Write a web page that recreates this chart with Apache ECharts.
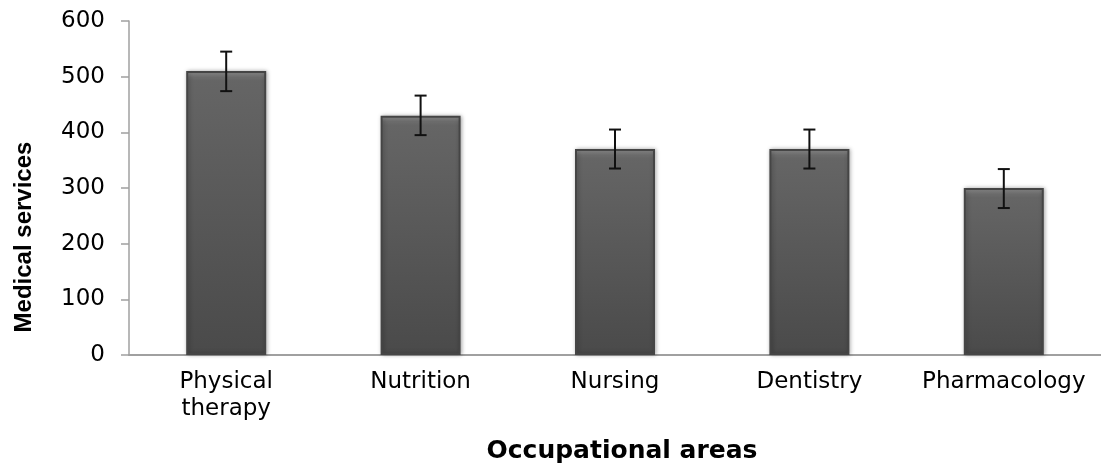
<!DOCTYPE html>
<html>
<head>
<meta charset="utf-8">
<script src="https://cdn.jsdelivr.net/npm/echarts@6/dist/echarts.min.js"></script>
<style>
  html, body { margin: 0; padding: 0; background: #fff; }
  #ec { width: 1101px; height: 469px; }
</style>
</head>
<body>
<div id="ec"></div>
<script>
  // data
  var categories = ['Physical\ntherapy', 'Nutrition', 'Nursing', 'Dentistry', 'Pharmacology']
  var values = [510, 430, 370, 370, 300]
  var errLow = [474, 395, 335, 335, 264]
  var errHigh = [545, 466, 405, 405, 334]
  var yTicks = [0, 100, 200, 300, 400, 500, 600]

  var plotH = 334
  var ec = echarts.init(document.getElementById('ec'))

  // bevelled bar look: light band at the top, darker toward the bottom
  function barStyle(v) {
    var h = v / yTicks[yTicks.length - 1] * plotH
    var b = 6 / h
    return {
      color: new echarts.graphic.LinearGradient(0, 0, 0, 1, [
        { offset: 0, color: '#969696' },
        { offset: b, color: '#6c6c6c' },
        { offset: b * 1.6, color: '#656565' },
        { offset: 1, color: '#4a4a4a' }
      ]),
      borderColor: '#454545',
      borderWidth: 2,
      shadowColor: 'rgba(0,0,0,0.3)',
      shadowBlur: 4,
      shadowOffsetX: 1
    }
  }

  var barData = values.map(function (v) {
    return { value: v, itemStyle: barStyle(v) }
  })

  var errData = categories.map(function (c, i) {
    return [i, errLow[i], errHigh[i]]
  })

  ec.setOption({
    animation: false,
    grid: {
      left: 129,
      top: 21,
      width: 979,
      height: plotH
    },
    graphic: [{
      type: 'text',
      x: 24,
      y: 237,
      rotation: Math.PI / 2,
      style: {
        text: 'Medical services',
        fill: '#000',
        font: 'bold 24px "Liberation Sans"',
        align: 'center',
        verticalAlign: 'middle'
      }
    }],
    xAxis: {
      type: 'category',
      data: categories,
      name: 'Occupational areas',
      nameLocation: 'middle',
      nameGap: 84,
      nameTextStyle: {
        color: '#000',
        fontSize: 25,
        fontWeight: 'bold',
        fontFamily: 'DejaVu Sans',
        padding: [0, 0, 0, 14]
      },
      axisLine: { lineStyle: { color: '#a0a0a0', width: 2 } },
      axisTick: { show: false },
      axisLabel: {
        color: '#000',
        fontSize: 23,
        fontFamily: 'DejaVu Sans',
        margin: 14,
        lineHeight: 27,
        interval: 0
      }
    },
    yAxis: {
      type: 'value',
      min: yTicks[0],
      max: yTicks[yTicks.length - 1],
      interval: 100,
      axisLine: { show: true, lineStyle: { color: '#a0a0a0', width: 1.5 } },
      axisTick: { show: true, length: 8, lineStyle: { color: '#a0a0a0', width: 1.5 } },
      splitLine: { show: false },
      axisLabel: {
        color: '#000',
        fontSize: 23,
        fontFamily: 'DejaVu Sans',
        margin: 24
      }
    },
    series: [{
      type: 'bar',
      data: barData,
      barWidth: 80
    }, {
      type: 'custom',
      data: errData,
      z: 10,
      renderItem: function (params, api) {
        var x = api.value(0)
        var lo = api.coord([x, api.value(1)])
        var hi = api.coord([x, api.value(2)])
        var w = 6
        var style = { stroke: '#111', lineWidth: 2 }
        return {
          type: 'group',
          children: [
            { type: 'line', shape: { x1: hi[0], y1: hi[1], x2: lo[0], y2: lo[1] }, style: style },
            { type: 'line', shape: { x1: hi[0] - w, y1: hi[1], x2: hi[0] + w, y2: hi[1] }, style: style },
            { type: 'line', shape: { x1: lo[0] - w, y1: lo[1], x2: lo[0] + w, y2: lo[1] }, style: style }
          ]
        }
      }
    }]
  })
</script>
</body>
</html>
